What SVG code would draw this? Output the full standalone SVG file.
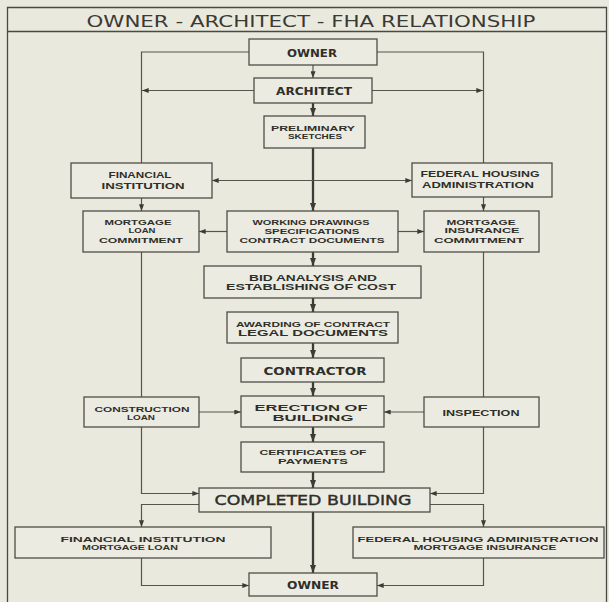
<svg xmlns="http://www.w3.org/2000/svg" width="609" height="602" viewBox="0 0 609 602">
  <style>
    .bg { fill: #eae9de; }
    .frame { fill: none; stroke: #4a4a44; stroke-width: 1.3; }
    .box { fill: #ecebe1; stroke: #4e4e47; stroke-width: 1.3; }
    .ln { fill: none; stroke: #55554e; stroke-width: 1.2; }
    .main { fill: none; stroke: #3c3c36; stroke-width: 2.3; }
    text { fill: #2f2f2a; text-anchor: middle; }
    .title { font-family: "DejaVu Sans", "Liberation Sans", sans-serif; font-size: 16px; font-weight: normal; fill: #3a3a35; }
    .big { font-family: "DejaVu Sans", "Liberation Sans", sans-serif; font-size: 14px; font-weight: normal; stroke: #2f2f2a; stroke-width: 0.4; }
    .mid { font-family: "DejaVu Sans", "Liberation Sans", sans-serif; font-size: 10.5px; font-weight: bold; }
    .sm { font-family: "Liberation Sans", "DejaVu Sans", sans-serif; font-size: 9px; font-weight: bold; }
    .xs { font-family: "Liberation Sans", "DejaVu Sans", sans-serif; font-size: 8px; font-weight: bold; }
  </style>
  <defs>
    <marker id="ah" viewBox="0 0 8 6" refX="8" refY="3" markerWidth="7" markerHeight="5" orient="auto" markerUnits="userSpaceOnUse">
      <path d="M0,0 L8,3 L0,6 z" fill="#3c3c36"/>
    </marker>
    <marker id="ahb" viewBox="0 0 8 6" refX="8" refY="3" markerWidth="8" markerHeight="6" orient="auto" markerUnits="userSpaceOnUse">
      <path d="M0,0 L8,3 L0,6 z" fill="#3c3c36"/>
    </marker>
  </defs>

  <rect class="bg" x="0" y="0" width="609" height="602"/>

  <!-- sheet frame and title band -->
  <g id="frame">
    <path class="frame" d="M7.5,602 V7.5 H606.5 V602"/>
    <line class="frame" x1="7.5" y1="31.5" x2="606.5" y2="31.5"/>
    <text class="title" x="311" y="27" textLength="449" lengthAdjust="spacingAndGlyphs">OWNER - ARCHITECT - FHA RELATIONSHIP</text>
  </g>

  <!-- connectors -->
  <g id="connectors">
    <!-- owner out to both side lines -->
    <path class="ln" d="M249,52 H141.5 V163"/>
    <path class="ln" d="M377,52 H483.5 V163"/>
    <line class="ln" x1="313" y1="65" x2="313" y2="78" marker-end="url(#ah)"/>
    <!-- architect to side lines -->
    <line class="ln" x1="254" y1="90.5" x2="142" y2="90.5" marker-end="url(#ah)"/>
    <line class="ln" x1="372" y1="90.5" x2="483" y2="90.5" marker-end="url(#ah)"/>
    <!-- main spine -->
    <line class="main" x1="313" y1="103" x2="313" y2="116" marker-end="url(#ahb)"/>
    <line class="main" x1="313" y1="148" x2="313" y2="211" marker-end="url(#ahb)"/>
    <line class="main" x1="313" y1="252" x2="313" y2="266" marker-end="url(#ahb)"/>
    <line class="main" x1="313" y1="298" x2="313" y2="312" marker-end="url(#ahb)"/>
    <line class="main" x1="313" y1="343" x2="313" y2="358" marker-end="url(#ahb)"/>
    <line class="main" x1="313" y1="382" x2="313" y2="396" marker-end="url(#ahb)"/>
    <line class="main" x1="313" y1="427" x2="313" y2="442" marker-end="url(#ahb)"/>
    <line class="main" x1="313" y1="472" x2="313" y2="488" marker-end="url(#ahb)"/>
    <line class="main" x1="313" y1="512" x2="313" y2="573" marker-end="url(#ahb)"/>
    <!-- sketches to lender and FHA -->
    <line class="ln" x1="313" y1="180.5" x2="212" y2="180.5" marker-end="url(#ah)"/>
    <line class="ln" x1="313" y1="180.5" x2="412" y2="180.5" marker-end="url(#ah)"/>
    <!-- commitments -->
    <line class="ln" x1="141.5" y1="198" x2="141.5" y2="211" marker-end="url(#ah)"/>
    <line class="ln" x1="483.5" y1="197" x2="483.5" y2="211" marker-end="url(#ah)"/>
    <line class="ln" x1="227" y1="231.5" x2="199" y2="231.5" marker-end="url(#ah)"/>
    <line class="ln" x1="398" y1="231.5" x2="424" y2="231.5" marker-end="url(#ah)"/>
    <line class="ln" x1="141.5" y1="252" x2="141.5" y2="397"/>
    <line class="ln" x1="483.5" y1="252" x2="483.5" y2="397"/>
    <!-- loan and inspection into erection -->
    <line class="ln" x1="199" y1="412" x2="241" y2="412" marker-end="url(#ah)"/>
    <line class="ln" x1="424" y1="412" x2="384" y2="412" marker-end="url(#ah)"/>
    <!-- into completed building -->
    <path class="ln" d="M141.5,427 V493.5 H199" marker-end="url(#ah)"/>
    <path class="ln" d="M483.5,427 V493.5 H430" marker-end="url(#ah)"/>
    <!-- completed building to mortgage boxes -->
    <path class="ln" d="M199,504.5 H141.5 V527" marker-end="url(#ah)"/>
    <path class="ln" d="M430,504.5 H483.5 V527" marker-end="url(#ah)"/>
    <!-- mortgage boxes to owner -->
    <path class="ln" d="M141.5,558 V585.5 H249" marker-end="url(#ah)"/>
    <path class="ln" d="M483.5,558 V585.5 H377" marker-end="url(#ah)"/>
  </g>

  <g id="owner-top">
    <rect class="box" x="249" y="39" width="128" height="26"/>
    <text class="mid" x="312" y="56.5" textLength="50" lengthAdjust="spacingAndGlyphs">OWNER</text>
  </g>
  <g id="architect">
    <rect class="box" x="254" y="78" width="118" height="25"/>
    <text class="mid" x="314" y="95" textLength="76" lengthAdjust="spacingAndGlyphs">ARCHITECT</text>
  </g>
  <g id="sketches">
    <rect class="box" x="264" y="116" width="101" height="32"/>
    <text class="xs" x="313" y="130.5" textLength="84" lengthAdjust="spacingAndGlyphs">PRELIMINARY</text>
    <text class="xs" x="315" y="139" textLength="54" lengthAdjust="spacingAndGlyphs">SKETCHES</text>
  </g>
  <g id="financial-institution">
    <rect class="box" x="71" y="163" width="141" height="35"/>
    <text class="sm" x="140" y="177.5" textLength="63" lengthAdjust="spacingAndGlyphs">FINANCIAL</text>
    <text class="sm" x="143" y="188.5" textLength="83" lengthAdjust="spacingAndGlyphs">INSTITUTION</text>
  </g>
  <g id="fha">
    <rect class="box" x="412" y="163" width="140" height="34"/>
    <text class="sm" x="480" y="177" textLength="119" lengthAdjust="spacingAndGlyphs">FEDERAL HOUSING</text>
    <text class="sm" x="478" y="188" textLength="112" lengthAdjust="spacingAndGlyphs">ADMINISTRATION</text>
  </g>
  <g id="loan-commitment">
    <rect class="box" x="83" y="211" width="116" height="41"/>
    <text class="xs" x="138" y="224.5" textLength="67" lengthAdjust="spacingAndGlyphs">MORTGAGE</text>
    <text class="xs" x="142" y="233" textLength="27" lengthAdjust="spacingAndGlyphs">LOAN</text>
    <text class="xs" x="141" y="243" textLength="84" lengthAdjust="spacingAndGlyphs">COMMITMENT</text>
  </g>
  <g id="working-drawings">
    <rect class="box" x="227" y="211" width="171" height="41"/>
    <text class="xs" x="311" y="225" textLength="117" lengthAdjust="spacingAndGlyphs">WORKING DRAWINGS</text>
    <text class="xs" x="312" y="234" textLength="95" lengthAdjust="spacingAndGlyphs">SPECIFICATIONS</text>
    <text class="xs" x="312" y="243" textLength="145" lengthAdjust="spacingAndGlyphs">CONTRACT DOCUMENTS</text>
  </g>
  <g id="insurance-commitment">
    <rect class="box" x="424" y="211" width="115" height="41"/>
    <text class="xs" x="481" y="224.5" textLength="69" lengthAdjust="spacingAndGlyphs">MORTGAGE</text>
    <text class="xs" x="482" y="233" textLength="75" lengthAdjust="spacingAndGlyphs">INSURANCE</text>
    <text class="xs" x="479" y="243" textLength="90" lengthAdjust="spacingAndGlyphs">COMMITMENT</text>
  </g>
  <g id="bid-analysis">
    <rect class="box" x="204" y="266" width="217" height="32"/>
    <text class="sm" x="313" y="280.5" textLength="128" lengthAdjust="spacingAndGlyphs">BID ANALYSIS AND</text>
    <text class="sm" x="311" y="289.5" textLength="170" lengthAdjust="spacingAndGlyphs">ESTABLISHING OF COST</text>
  </g>
  <g id="awarding">
    <rect class="box" x="227" y="312" width="171" height="31"/>
    <text class="xs" x="313" y="326.5" textLength="154" lengthAdjust="spacingAndGlyphs">AWARDING OF CONTRACT</text>
    <text class="sm" x="313" y="335.5" textLength="150" lengthAdjust="spacingAndGlyphs">LEGAL DOCUMENTS</text>
  </g>
  <g id="contractor">
    <rect class="box" x="241" y="358" width="143" height="24"/>
    <text class="mid" x="315" y="375" textLength="103" lengthAdjust="spacingAndGlyphs">CONTRACTOR</text>
  </g>
  <g id="erection">
    <rect class="box" x="241" y="396" width="143" height="31"/>
    <text class="sm" x="311" y="411" textLength="113" lengthAdjust="spacingAndGlyphs">ERECTION OF</text>
    <text class="sm" x="313" y="420.5" textLength="81" lengthAdjust="spacingAndGlyphs">BUILDING</text>
  </g>
  <g id="construction-loan">
    <rect class="box" x="84" y="397" width="115" height="30"/>
    <text class="xs" x="142" y="411.5" textLength="95" lengthAdjust="spacingAndGlyphs">CONSTRUCTION</text>
    <text class="xs" x="141" y="420" textLength="28" lengthAdjust="spacingAndGlyphs">LOAN</text>
  </g>
  <g id="inspection">
    <rect class="box" x="424" y="397" width="115" height="30"/>
    <text class="sm" x="481" y="416" textLength="77" lengthAdjust="spacingAndGlyphs">INSPECTION</text>
  </g>
  <g id="certificates">
    <rect class="box" x="241" y="442" width="143" height="30"/>
    <text class="xs" x="313" y="455" textLength="107" lengthAdjust="spacingAndGlyphs">CERTIFICATES OF</text>
    <text class="xs" x="313" y="463.5" textLength="70" lengthAdjust="spacingAndGlyphs">PAYMENTS</text>
  </g>
  <g id="completed-building">
    <rect class="box" x="199" y="488" width="231" height="24"/>
    <text class="big" x="313" y="505" textLength="197" lengthAdjust="spacingAndGlyphs">COMPLETED BUILDING</text>
  </g>
  <g id="mortgage-loan">
    <rect class="box" x="15" y="527" width="256" height="31"/>
    <text class="xs" x="143" y="542" textLength="165" lengthAdjust="spacingAndGlyphs">FINANCIAL INSTITUTION</text>
    <text class="xs" x="130" y="550" textLength="96" lengthAdjust="spacingAndGlyphs">MORTGAGE LOAN</text>
  </g>
  <g id="mortgage-insurance">
    <rect class="box" x="353" y="527" width="251" height="31"/>
    <text class="xs" x="478" y="542" textLength="241" lengthAdjust="spacingAndGlyphs">FEDERAL HOUSING ADMINISTRATION</text>
    <text class="xs" x="485" y="550" textLength="143" lengthAdjust="spacingAndGlyphs">MORTGAGE INSURANCE</text>
  </g>
  <g id="owner-bottom">
    <rect class="box" x="249" y="573" width="128" height="23"/>
    <text class="mid" x="313" y="589" textLength="52" lengthAdjust="spacingAndGlyphs">OWNER</text>
  </g>
</svg>
